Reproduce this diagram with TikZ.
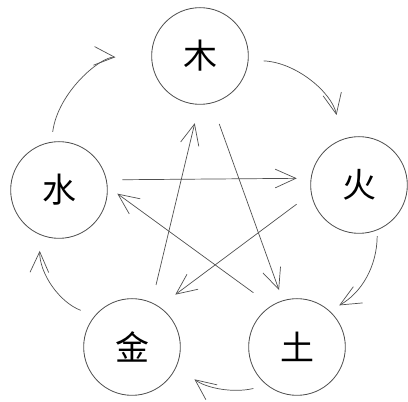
\documentclass[tikz,border=0pt]{standalone}
\usepackage{fontspec}
\newfontfamily\cjk{Noto Sans CJK SC}
\usepackage{tikz}
\usetikzlibrary{arrows.meta}
\definecolor{wxgray}{RGB}{80,80,80}
\tikzset{
  elem/.style={circle, draw=wxgray, line width=0.7pt, minimum size=2.9cm,
               inner sep=0pt, font=\cjk\fontsize{29}{30}\selectfont},
  gen/.style={-{Straight Barb[length=0.62cm, width=0.56cm]}, line width=0.6pt, color=wxgray},
}

\begin{document}
\begin{tikzpicture}[x=0.03cm, y=-0.03cm]
  \useasboundingbox (0,0) rectangle (408,402);
  % elements
  \foreach \nm/\x/\y/\ch in {mu/200/56/木, huo/359/185/火, tu/297/347/土, jin/132/347/金, shui/59/190/水}{
    \node[elem] (\nm) at (\x,\y) {\ch};
  }
  % star
  \foreach \a/\aa/\sa/\b/\bb/\sb in {shui/12/0.47/huo/172/0.42, huo/190/0.54/jin/56/0.6,
      jin/66/0.54/mu/269/0.57, mu/284/0.66/tu/107/0.33, tu/122/0.66/shui/4/0.36}{
    \draw[gen, shorten <=\sa cm, shorten >=\sb cm] (\a.\aa) -- (\b.\bb);
  }
  % cycle
  \foreach \a/\aa/\sa/\b/\bb/\sb/\bd in {mu/-5/0.45/huo/111/0.75/38, huo/-68/0.18/tu/48/0.33/30,
      tu/-128/0.42/jin/-23/0.66/25, jin/140/0.45/shui/-113/0.48/35, shui/99/0.3/mu/184/1.08/43}{
    \draw[gen, shorten <=\sa cm, shorten >=\sb cm] (\a.\aa) to[bend left=\bd] (\b.\bb);
  }
\end{tikzpicture}
\end{document}
